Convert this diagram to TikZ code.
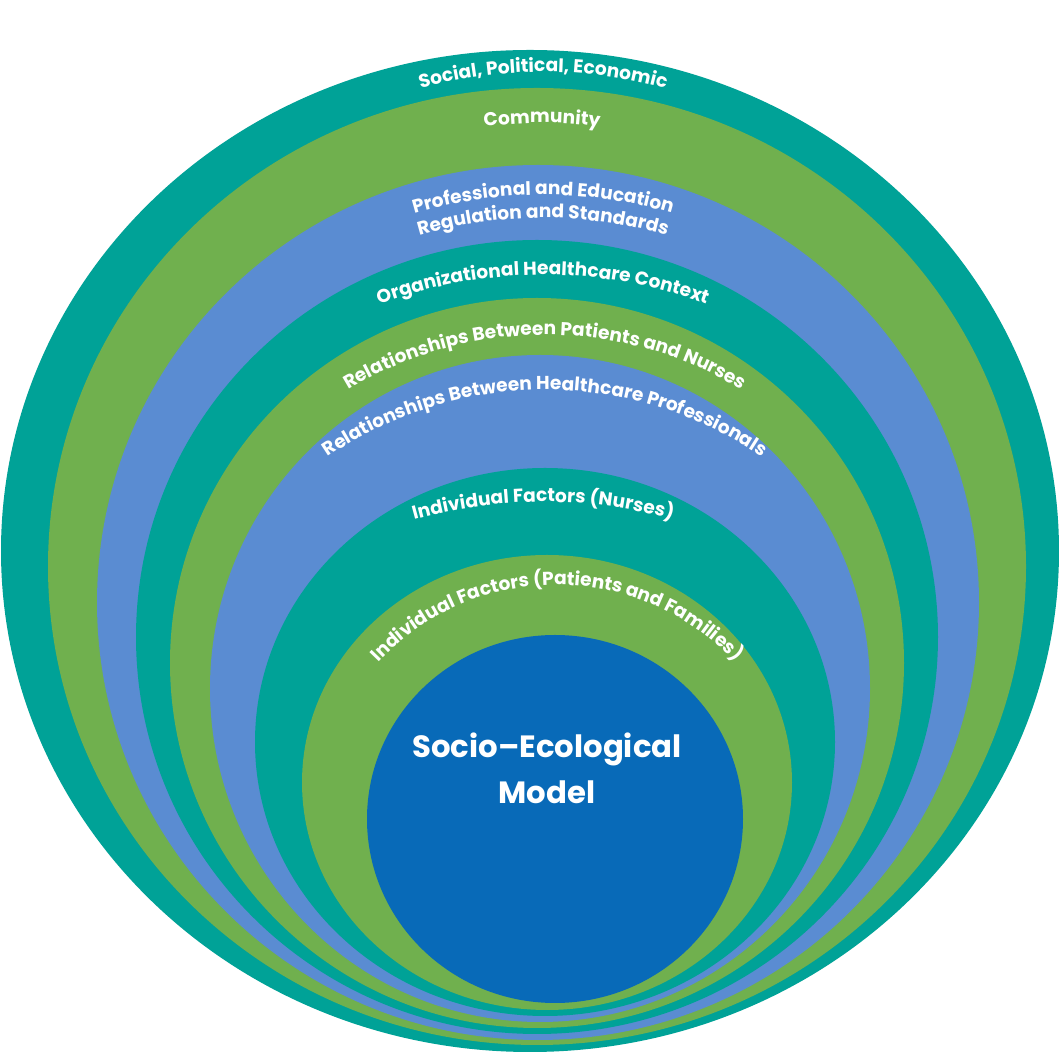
\documentclass[tikz,border=0pt]{standalone}
\usepackage{fontspec}
\setmainfont{Poppins}
\usetikzlibrary{calc, decorations.text}
\definecolor{sebteal}{HTML}{00A297}
\definecolor{sebgreen}{HTML}{70B04E}
\definecolor{sebblue}{HTML}{5A8CD2}
\definecolor{sebcore}{HTML}{086AB8}
\newcommand\lblfont{\color{white}\bfseries\fontsize{10.6}{12}\selectfont}
\tikzset{%
	arclabel/.style={decorate, decoration={text along path, text align=center,
	text={|\lblfont|#1}}}
}

\begin{document}
\begin{tikzpicture}[x=0.02cm, y=0.02cm, ring/.style={fill=#1}]
				\useasboundingbox (0,0) rectangle (1059,1055);
				\fill[white] (0,0) rectangle (1059,1055);
				% rings, outermost first
				\fill[ring=sebteal] (530,504) ellipse [x radius=529, y radius=501];
				\fill[ring=sebgreen] (537,488.5) ellipse [x radius=489, y radius=478.5];
				\fill[ring=sebblue] (538,452.5) ellipse [x radius=441, y radius=437.5];
				\fill[ring=sebteal] (537,418) ellipse [x radius=401, y radius=397];
				\fill[ring=sebgreen] (537,392) ellipse [x radius=367, y radius=365];
				\fill[ring=sebblue] (540,366.5) ellipse [x radius=330, y radius=333.5];
				\fill[ring=sebteal] (545,313) ellipse [x radius=290, y radius=274];
				\fill[ring=sebgreen] (547,272.5) ellipse [x radius=245, y radius=227.5];
				\fill[ring=sebcore] (555,236) ellipse [x radius=188, y radius=184];
				% labels on arcs
				\path[arclabel={Social, Political, Economic}] ($(543,523)+(150:460)$) arc [start angle=150, end angle=30, radius=460];
				\path[arclabel={Community}] ($(542,512)+(150:420)$) arc [start angle=150, end angle=30, radius=420];
				\path[arclabel={Professional and Education}] ($(543,400)+(150:460)$) arc [start angle=150, end angle=30, radius=460];
				\path[arclabel={Regulation and Standards}] ($(543,397)+(150:440)$) arc [start angle=150, end angle=30, radius=440];
				\path[arclabel={Organizational Healthcare Context}] ($(543,310)+(150:470)$) arc [start angle=150, end angle=30, radius=470];
				\path[arclabel={Relationships Between Patients and Nurses}] ($(545,340)+(150:380)$) arc [start angle=150, end angle=30, radius=380];
				\path[arclabel={Relationships Between Healthcare Professionals}] ($(545,280)+(150:385)$) arc [start angle=150, end angle=30, radius=385];
				\path[arclabel={Individual Factors (Nurses)}] ($(543,73)+(150:480)$) arc [start angle=150, end angle=30, radius=480];
				\path[arclabel={Individual Factors (Patients and Families)}] ($(557,225)+(165:245)$) arc [start angle=165, end angle=15, radius=245];
				\node[align=center, text=white, font=\bfseries\fontsize{17.5}{26}\selectfont] (core) at (547,287) {Socio–Ecological\\Model};
			\end{tikzpicture}
\end{document}
